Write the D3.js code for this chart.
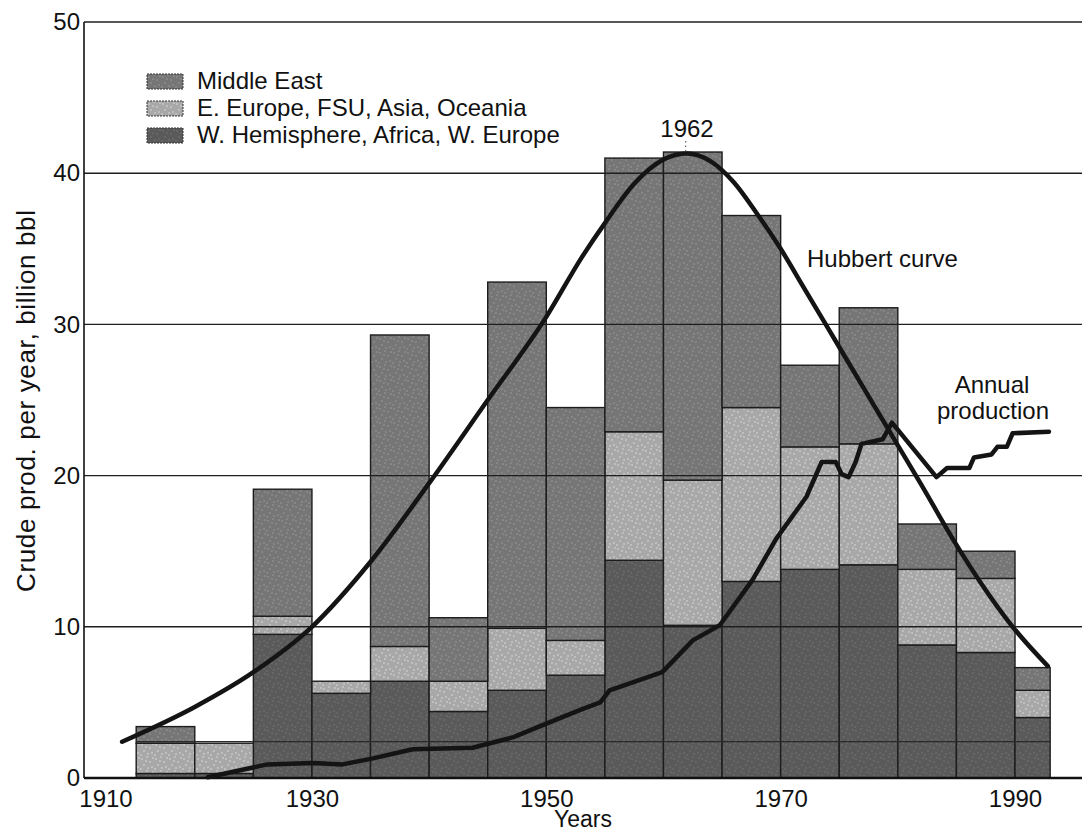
<!DOCTYPE html>
<html>
<head>
<meta charset="utf-8">
<script src="https://cdn.jsdelivr.net/npm/d3@7"></script>
<style>
  body { margin: 0; background: #fff; }
  text { font-family: "Liberation Sans", Arial, sans-serif; fill: #111; }
</style>
</head>
<body>
<svg id="chart" width="1082" height="834"></svg>
<script>
// 5-year discovery periods (last one is 1990-1993)
const binStart = [1915, 1920, 1925, 1930, 1935, 1940, 1945, 1950, 1955, 1960, 1965, 1970, 1975, 1980, 1985, 1990];
const binEnd   = [1920, 1925, 1930, 1935, 1940, 1945, 1950, 1955, 1960, 1965, 1970, 1975, 1980, 1985, 1990, 1993];
const westHem    = [0.3, 0.3, 9.5, 5.6, 6.4, 4.4, 5.8, 6.8, 14.4, 10.1, 13.0, 13.8, 14.1, 8.8, 8.3, 4.0];
const eastEurope = [2.0, 2.0, 1.2, 0.8, 2.3, 2.0, 4.1, 2.3, 8.5, 9.6, 11.5, 8.1, 8.0, 5.0, 4.9, 1.8];
const middleEast = [1.1, 0.0, 8.4, 0.0, 20.6, 4.2, 22.9, 15.4, 18.1, 21.7, 12.7, 5.4, 9.0, 3.0, 1.8, 1.5];

const hubbertYears  = [1913.8, 1920, 1925, 1930, 1935, 1940, 1945, 1950, 1953, 1955, 1957.5, 1960, 1962, 1964, 1966, 1968, 1970, 1972, 1974, 1976, 1978, 1980, 1982, 1984.7, 1987, 1989.8, 1992.8];
const hubbertValues = [2.4, 4.7, 7.0, 10.0, 14.3, 19.5, 25.0, 30.5, 34.4, 36.7, 39.3, 40.9, 41.3, 40.8, 39.4, 37.3, 35.0, 32.4, 29.8, 27.2, 24.6, 22.0, 19.4, 15.8, 13.0, 10.0, 7.4];

const prodYears  = [1921.1, 1926.2, 1930.1, 1932.6, 1935.2, 1938.6, 1943.7, 1947.2, 1950, 1952.9, 1954.6, 1955.4, 1959.9, 1962.5, 1964.8, 1967.6, 1969.6, 1972.2, 1973.5, 1974.7, 1975.2, 1975.8, 1976.4, 1976.9, 1978.7, 1979.5, 1983.3, 1984.2, 1986.1, 1986.5, 1988.0, 1988.5, 1989.3, 1989.8, 1992.9];
const prodValues = [0.05, 0.9, 1.0, 0.9, 1.3, 1.9, 2.0, 2.7, 3.6, 4.5, 5.0, 5.8, 7.0, 9.1, 10.1, 13.1, 15.8, 18.6, 20.9, 20.9, 20.1, 19.9, 20.9, 22.1, 22.4, 23.5, 19.9, 20.5, 20.5, 21.2, 21.4, 21.9, 21.9, 22.8, 22.9];

const seriesKeys  = ["westHem", "eastEurope", "middleEast"];
const legendNames = ["Middle East", "E. Europe, FSU, Asia, Oceania", "W. Hemisphere, Africa, W. Europe"];
const legendKeys  = ["middleEast", "eastEurope", "westHem"];
const yTicks = [0, 10, 20, 30, 40, 50];
const xTicks = [1910, 1930, 1950, 1970, 1990];
const baseLineValue = 2.4;

const colors = { middleEast: "#767676", eastEurope: "#a8a8a8", westHem: "#5a5a5a" };

const svg = d3.select("#chart");
const x = d3.scaleLinear().domain([1910, 1990]).range([77.6, 1015]);
const y = d3.scaleLinear().domain([0, 50]).range([778, 22]);
const plotLeft = 84, plotRight = 1082;

// speckled fills
const defs = svg.append("defs");
const dots = [[2,3],[7,1],[10,6],[4,9],[12,11],[1,13],[8,12],[13,2],[6,5]];
seriesKeys.forEach(k => {
  const p = defs.append("pattern").attr("id", "pat-" + k)
    .attr("patternUnits", "userSpaceOnUse").attr("width", 14).attr("height", 14);
  p.append("rect").attr("width", 14).attr("height", 14).attr("fill", colors[k]);
  p.selectAll("circle").data(dots).enter().append("circle")
    .attr("cx", d => d[0]).attr("cy", d => d[1]).attr("r", 0.7)
    .attr("fill", d3.color(colors[k]).brighter(0.9));
});

// stacked bars
const rows = binStart.map((s, i) => ({
  start: s, end: binEnd[i],
  westHem: westHem[i], eastEurope: eastEurope[i], middleEast: middleEast[i]
}));
const stacked = d3.stack().keys(seriesKeys)(rows);

svg.append("g").selectAll("g")
  .data(stacked)
  .enter().append("g")
  .attr("fill", d => "url(#pat-" + d.key + ")")
  .selectAll("rect")
  .data(d => d.filter(s => s[1] - s[0] > 0))
  .enter().append("rect")
  .attr("x", d => x(d.data.start))
  .attr("width", d => x(d.data.end) - x(d.data.start))
  .attr("y", d => y(d[1]))
  .attr("height", d => y(d[0]) - y(d[1]))
  .attr("stroke", "#1c1c1c")
  .attr("stroke-width", 1.4);

// thin line across the bars near the bottom
svg.append("line")
  .attr("x1", x(binStart[0])).attr("x2", x(binEnd[binEnd.length - 1]))
  .attr("y1", y(baseLineValue)).attr("y2", y(baseLineValue))
  .attr("stroke", "#2a2a2a").attr("stroke-width", 1.2);

// gridlines
svg.append("g").selectAll("line")
  .data(yTicks.filter(t => t > 0))
  .enter().append("line")
  .attr("x1", plotLeft).attr("x2", plotRight)
  .attr("y1", d => y(d)).attr("y2", d => y(d))
  .attr("stroke", "#1e1e1e").attr("stroke-width", 1.4);

// axes lines
svg.append("line").attr("x1", plotLeft).attr("x2", plotLeft)
  .attr("y1", y(50)).attr("y2", y(0)).attr("stroke", "#111").attr("stroke-width", 1.6);
svg.append("line").attr("x1", plotLeft).attr("x2", plotRight)
  .attr("y1", y(0)).attr("y2", y(0)).attr("stroke", "#111").attr("stroke-width", 2.6);

// tick labels
const yAxis = svg.append("g").attr("transform", "translate(" + (plotLeft - 4) + ",0)")
  .call(d3.axisLeft(y).tickValues(yTicks).tickSize(0).tickPadding(0));
yAxis.select(".domain").remove();
yAxis.selectAll("text").style("font-size", "24px").style("font-family", "Liberation Sans, Arial, sans-serif")
  .attr("fill", "#111");

const xAxis = svg.append("g").attr("transform", "translate(0," + y(0) + ")")
  .call(d3.axisBottom(x).tickValues(xTicks).tickFormat(d3.format("d")).tickSize(0).tickPadding(12));
xAxis.select(".domain").remove();
xAxis.selectAll("text").style("font-size", "24px").style("font-family", "Liberation Sans, Arial, sans-serif")
  .attr("fill", "#111");
xAxis.selectAll(".tick").filter(d => d === 1910).attr("transform", "translate(106,0)");

// curves
const hubbertLine = d3.line().x(d => x(d[0])).y(d => y(d[1])).curve(d3.curveMonotoneX);
svg.append("path")
  .datum(hubbertYears.map((yr, i) => [yr, hubbertValues[i]]))
  .attr("d", hubbertLine)
  .attr("fill", "none").attr("stroke", "#141414").attr("stroke-width", 4.5)
  .attr("stroke-linecap", "round");

const prodLine = d3.line().x(d => x(d[0])).y(d => y(d[1]));
svg.append("path")
  .datum(prodYears.map((yr, i) => [yr, prodValues[i]]))
  .attr("d", prodLine)
  .attr("fill", "none").attr("stroke", "#141414").attr("stroke-width", 4.5)
  .attr("stroke-linejoin", "round").attr("stroke-linecap", "round");

// annotations
svg.append("line").attr("x1", x(1961.9)).attr("x2", x(1961.9))
  .attr("y1", 141).attr("y2", y(41.3) - 2)
  .attr("stroke", "#444").attr("stroke-width", 1).attr("stroke-dasharray", "1.5,3");
svg.append("text").attr("x", 687).attr("y", 137).attr("text-anchor", "middle")
  .style("font-size", "24px").text("1962");
svg.append("text").attr("x", 807).attr("y", 267)
  .style("font-size", "24px").text("Hubbert curve");
svg.append("text").attr("x", 992).attr("y", 393).attr("text-anchor", "middle")
  .style("font-size", "24px").text("Annual");
svg.append("text").attr("x", 993).attr("y", 419).attr("text-anchor", "middle")
  .style("font-size", "24px").text("production");

// axis titles
svg.append("text").attr("transform", "translate(35,401) rotate(-90)")
  .attr("text-anchor", "middle").style("font-size", "26px")
  .attr("textLength", 382).attr("lengthAdjust", "spacing")
  .text("Crude prod. per year, billion bbl");
svg.append("text").attr("x", 583).attr("y", 827).attr("text-anchor", "middle")
  .style("font-size", "23px").text("Years");

// legend
const legend = svg.append("g").selectAll("g")
  .data(legendKeys)
  .enter().append("g")
  .attr("transform", (d, i) => "translate(147," + (74 + i * 27) + ")");
legend.append("rect").attr("width", 36).attr("height", 15)
  .attr("fill", d => "url(#pat-" + d + ")")
  .attr("stroke", "#333").attr("stroke-width", 1).attr("stroke-dasharray", "2,1");
legend.append("text").attr("x", 50).attr("y", 15)
  .style("font-size", "24px")
  .text((d, i) => legendNames[i]);
</script>
</body>
</html>
